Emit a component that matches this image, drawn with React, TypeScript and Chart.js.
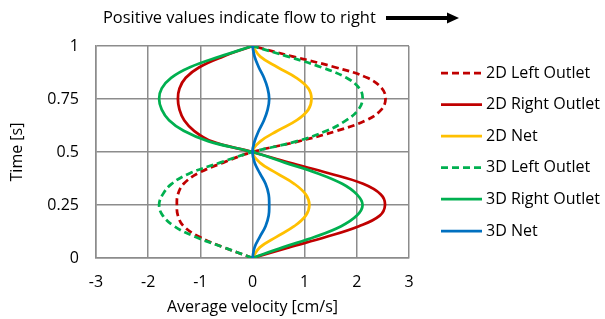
import React, { useEffect, useRef } from "react";
import { Chart, registerables } from "chart.js";

Chart.register(...registerables);

const times = [0, 0.05, 0.1, 0.15, 0.2, 0.25, 0.3, 0.35, 0.4, 0.45, 0.5, 0.55, 0.6, 0.65, 0.7, 0.75, 0.8, 0.85, 0.9, 0.95, 1];

const left2D = [0, -0.55, -1.02, -1.32, -1.43, -1.45, -1.43, -1.32, -1.04, -0.56, 0, 0.88, 1.62, 2.18, 2.47, 2.55, 2.48, 2.2, 1.58, 0.78, 0];
const right2D = [0, 0.7, 1.42, 2.04, 2.44, 2.54, 2.46, 2.12, 1.46, 0.7, 0, -0.78, -1.12, -1.31, -1.4, -1.43, -1.4, -1.28, -1.02, -0.57, 0];
const net2D = [0, 0.14, 0.46, 0.8, 1.02, 1.09, 1.02, 0.8, 0.46, 0.14, 0, 0.15, 0.48, 0.85, 1.07, 1.13, 1.07, 0.84, 0.48, 0.15, 0];
const left3D = [0, -0.55, -1.1, -1.5, -1.72, -1.79, -1.72, -1.55, -1.2, -0.62, 0, 0.84, 1.42, 1.8, 2.03, 2.11, 2.05, 1.8, 1.32, 0.68, 0];
const right3D = [0, 0.58, 1.2, 1.7, 2.0, 2.11, 2.0, 1.72, 1.24, 0.62, 0, -0.84, -1.32, -1.6, -1.74, -1.79, -1.74, -1.56, -1.2, -0.63, 0];
const net3D = [0, 0.04, 0.14, 0.25, 0.31, 0.32, 0.31, 0.25, 0.14, 0.04, 0, 0.04, 0.12, 0.22, 0.29, 0.32, 0.29, 0.22, 0.12, 0.04, 0];

const seriesLabels = ["2D Left Outlet", "2D Right Outlet", "2D Net", "3D Left Outlet", "3D Right Outlet", "3D Net"];
const seriesValues = [left2D, right2D, net2D, left3D, right3D, net3D];
const seriesColors = ["#C00000", "#C00000", "#FFC000", "#00B050", "#00B050", "#0070C0"];
const seriesDashed = [true, false, false, true, false, false];

const xTicks = [-3, -2, -1, 0, 1, 2, 3];
const yTicks = [0, 0.25, 0.5, 0.75, 1];

const titleText = "Positive values indicate flow to right";
const xTitle = "Average velocity [cm/s]";
const yTitle = "Time [s]";

const FONT = "'Open Sans', sans-serif";
const DASH = [7, 4];

const extrasPlugin = {
  id: "extras",
  afterDraw(chart: any) {
    const ctx = chart.ctx;
    ctx.save();
    // title
    ctx.fillStyle = "#000";
    ctx.font = `16.4px ${FONT}`;
    ctx.textAlign = "left";
    ctx.textBaseline = "middle";
    ctx.fillText(titleText, 103, 18);
    // arrow
    ctx.strokeStyle = "#000";
    ctx.lineWidth = 4;
    ctx.beginPath();
    ctx.moveTo(386, 18);
    ctx.lineTo(449, 18);
    ctx.stroke();
    ctx.fillStyle = "#000";
    ctx.beginPath();
    ctx.moveTo(447, 12.5);
    ctx.lineTo(459, 18);
    ctx.lineTo(447, 23.5);
    ctx.closePath();
    ctx.fill();
    // legend
    const rows = [73, 104.5, 136, 167.5, 199, 231];
    chart.data.datasets.forEach((ds: any, i: number) => {
      const y = rows[i];
      ctx.strokeStyle = ds.borderColor;
      ctx.lineWidth = 2.75;
      ctx.setLineDash(ds.borderDash || []);
      ctx.beginPath();
      ctx.moveTo(441, y);
      ctx.lineTo(482, y);
      ctx.stroke();
      ctx.setLineDash([]);
      ctx.fillStyle = "#000";
      ctx.font = `16px ${FONT}`;
      ctx.textAlign = "left";
      ctx.textBaseline = "middle";
      ctx.fillText(ds.label, 486, y);
    });
    ctx.restore();
  },
};

export default function App() {
  const ref = useRef<HTMLCanvasElement>(null);
  useEffect(() => {
    if (!ref.current) return;
    const datasets = seriesLabels.map((label, i) => ({
      label,
      data: seriesValues[i].map((v, j) => ({ x: v, y: times[j] })),
      borderColor: seriesColors[i],
      backgroundColor: seriesColors[i],
      borderWidth: 2.75,
      borderDash: seriesDashed[i] ? DASH : [],
      showLine: true,
      pointRadius: 0,
      tension: 0.4,
      order: seriesLabels.length - i,
    }));
    const chart = new Chart(ref.current, {
      type: "scatter",
      data: { datasets },
      options: {
        animation: false,
        responsive: true,
        maintainAspectRatio: false,
        layout: { padding: { top: 46, right: 196, left: 0, bottom: 0 } },
        plugins: { legend: { display: false }, tooltip: { enabled: false } },
        scales: {
          x: {
            type: "linear",
            min: xTicks[0],
            max: xTicks[xTicks.length - 1],
            afterBuildTicks: (s: any) => { s.ticks = xTicks.map((v) => ({ value: v })); },
            afterFit: (s: any) => { s.height = 61; },
            grid: { color: "#8c8c8c", lineWidth: 1.5, drawTicks: false },
            border: { color: "#8c8c8c", width: 1.5 },
            ticks: { padding: 15, color: "#000", font: { family: FONT, size: 16 }, callback: (v: any) => String(v) },
            title: { display: true, text: xTitle, color: "#000", font: { family: FONT, size: 16 }, padding: { top: 0, bottom: 2 } },
          },
          y: {
            type: "linear",
            min: yTicks[0],
            max: yTicks[yTicks.length - 1],
            afterBuildTicks: (s: any) => { s.ticks = yTicks.map((v) => ({ value: v })); },
            afterFit: (s: any) => { s.width = 96; },
            grid: { color: "#8c8c8c", lineWidth: 1.5, drawTicks: false },
            border: { color: "#8c8c8c", width: 1.5 },
            ticks: { padding: 17, color: "#000", font: { family: FONT, size: 16 }, callback: (v: any) => String(v) },
            title: { display: true, text: yTitle, color: "#000", font: { family: FONT, size: 16 }, padding: { top: 8, bottom: 0 } },
          },
        },
      },
      plugins: [extrasPlugin],
    });
    return () => chart.destroy();
  }, []);
  return (
    <div style={{ position: "absolute", left: 0, top: 0, width: 605, height: 319 }}>
      <canvas ref={ref} />
    </div>
  );
}
